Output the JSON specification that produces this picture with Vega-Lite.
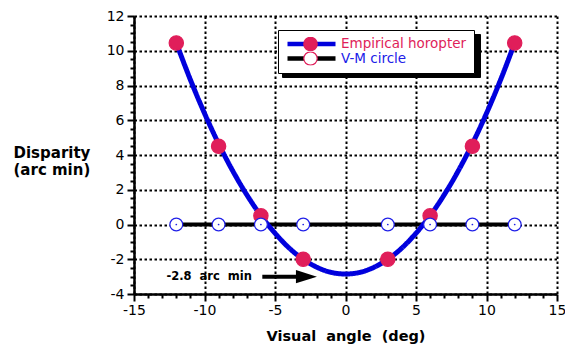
{
  "$schema": "https://vega.github.io/schema/vega-lite/v6.json",
  "width": 423,
  "height": 278,
  "autosize": {"type": "none"},
  "padding": {"left": 134, "top": 16, "right": 8, "bottom": 50},
  "config": {"view": {"stroke": null}, "font": "DejaVu Sans"},
  "datasets": {
    "curve": [
      {"x": -12, "y": 10.45, "series": "Empirical horopter"},
      {"x": -11, "y": 8.33, "series": "Empirical horopter"},
      {"x": -10, "y": 6.4, "series": "Empirical horopter"},
      {"x": -9, "y": 4.65, "series": "Empirical horopter"},
      {"x": -8, "y": 3.09, "series": "Empirical horopter"},
      {"x": -7, "y": 1.71, "series": "Empirical horopter"},
      {"x": -6, "y": 0.51, "series": "Empirical horopter"},
      {"x": -5, "y": -0.5, "series": "Empirical horopter"},
      {"x": -4, "y": -1.35, "series": "Empirical horopter"},
      {"x": -3, "y": -2.0, "series": "Empirical horopter"},
      {"x": -2, "y": -2.47, "series": "Empirical horopter"},
      {"x": -1, "y": -2.76, "series": "Empirical horopter"},
      {"x": 0, "y": -2.85, "series": "Empirical horopter"},
      {"x": 1, "y": -2.76, "series": "Empirical horopter"},
      {"x": 2, "y": -2.47, "series": "Empirical horopter"},
      {"x": 3, "y": -2.0, "series": "Empirical horopter"},
      {"x": 4, "y": -1.35, "series": "Empirical horopter"},
      {"x": 5, "y": -0.5, "series": "Empirical horopter"},
      {"x": 6, "y": 0.51, "series": "Empirical horopter"},
      {"x": 7, "y": 1.71, "series": "Empirical horopter"},
      {"x": 8, "y": 3.09, "series": "Empirical horopter"},
      {"x": 9, "y": 4.65, "series": "Empirical horopter"},
      {"x": 10, "y": 6.4, "series": "Empirical horopter"},
      {"x": 11, "y": 8.33, "series": "Empirical horopter"},
      {"x": 12, "y": 10.45, "series": "Empirical horopter"}
    ],
    "vm": [
      {"x": -12, "y": 0, "series": "V-M circle"},
      {"x": 12, "y": 0, "series": "V-M circle"}
    ],
    "points": [
      {"x": -12, "y": 10.45, "name": "Empirical horopter"},
      {"x": -9, "y": 4.5, "name": "Empirical horopter"},
      {"x": -6, "y": 0.5, "name": "Empirical horopter"},
      {"x": -3, "y": -2.0, "name": "Empirical horopter"},
      {"x": 3, "y": -2.0, "name": "Empirical horopter"},
      {"x": 6, "y": 0.5, "name": "Empirical horopter"},
      {"x": 9, "y": 4.5, "name": "Empirical horopter"},
      {"x": 12, "y": 10.45, "name": "Empirical horopter"},
      {"x": -12, "y": 0, "name": "V-M circle"},
      {"x": -9, "y": 0, "name": "V-M circle"},
      {"x": -6, "y": 0, "name": "V-M circle"},
      {"x": -3, "y": 0, "name": "V-M circle"},
      {"x": 3, "y": 0, "name": "V-M circle"},
      {"x": 6, "y": 0, "name": "V-M circle"},
      {"x": 9, "y": 0, "name": "V-M circle"},
      {"x": 12, "y": 0, "name": "V-M circle"}
    ],
    "note": [{"x": -12.7, "y": -3.0, "text": "-2.8\u00a0 arc\u00a0 min"}],
    "arrow": [{"x": -5.9, "x2": -3.4, "y": -3.0, "hx": -2.77}]
  },
  "resolve": {"axis": {"x": "independent", "y": "independent"}},
  "layer": [
    {
      "data": {"name": "vm"},
      "mark": {"type": "line", "strokeWidth": 4},
      "encoding": {
        "x": {
          "field": "x", "type": "quantitative",
          "scale": {"domain": [-15, 15], "nice": false, "zero": false},
          "axis": {
            "orient": "bottom",
            "values": [-15, -10, -5, 0, 5, 10, 15],
            "labelExpr": "replace(datum.label, '\u2212', '-')",
            "title": "Visual\u00a0 angle\u00a0 (deg)",
            "titleFont": "DejaVu Sans", "titleFontWeight": "bold", "titleFontSize": 14.5,
            "titleColor": "black", "titlePadding": 12,
            "labelFont": "DejaVu Sans", "labelFontSize": 14, "labelColor": "black", "labelPadding": 2,
            "labelFlush": false, "labelOverlap": false,
            "tickSize": 7, "tickWidth": 2, "tickColor": "black",
            "domainColor": "black", "domainWidth": 2.5,
            "grid": true, "gridColor": "black", "gridDash": [2.5, 2.5], "gridWidth": 2, "gridOpacity": 1
          }
        },
        "y": {
          "field": "y", "type": "quantitative",
          "scale": {"domain": [-4, 12], "nice": false, "zero": false},
          "axis": {
            "orient": "left",
            "values": [-4, -2, 0, 2, 4, 6, 8, 10, 12],
            "labelExpr": "replace(datum.label, '\u2212', '-')",
            "title": ["Disparity", "(arc min)"],
            "titleFont": "DejaVu Sans", "titleFontWeight": "bold", "titleFontSize": 15,
            "titleColor": "black", "titleAngle": 0, "titleAlign": "left", "titleBaseline": "alphabetic",
            "titleX": -121, "titleY": 141, "titleLineHeight": 17,
            "labelFont": "DejaVu Sans", "labelFontSize": 14, "labelColor": "black", "labelPadding": 3,
            "labelFlush": false, "labelOverlap": false,
            "tickSize": 7, "tickWidth": 2, "tickColor": "black",
            "domainColor": "black", "domainWidth": 2.5,
            "grid": true, "gridColor": "black", "gridDash": [2.5, 2.5], "gridWidth": 2, "gridOpacity": 1
          }
        },
        "stroke": {
          "field": "series", "type": "nominal",
          "scale": {"range": ["#0000dd", "#000000"]},
          "legend": {
            "title": null, "orient": "none", "legendX": 144, "legendY": 14, "direction": "vertical",
            "symbolType": "stroke", "symbolSize": 2304, "symbolStrokeWidth": 4.5,
            "labelFont": "DejaVu Sans", "labelFontSize": 13.5, "labelOffset": 3, "labelLimit": 300,
            "padding": 7, "clipHeight": 14, "rowPadding": 0.5,
            "fillColor": "white", "strokeColor": "black", "zindex": 1,
            "encode": {"labels": {"update": {"fill": {"signal": "datum.value === 'V-M circle' ? '#2020e8' : '#e01e5a'"}}}}
          }
        }
      }
    },
    {
      "data": {"name": "curve"},
      "mark": {"type": "line", "strokeWidth": 5, "interpolate": "monotone"},
      "encoding": {
        "x": {
          "field": "x", "type": "quantitative",
          "axis": {
            "orient": "bottom",
            "values": [-14, -13, -12, -11, -9, -8, -7, -6, -4, -3, -2, -1, 1, 2, 3, 4, 6, 7, 8, 9, 11, 12, 13, 14],
            "title": null, "labels": false, "domain": false, "grid": false,
            "tickSize": 4, "tickWidth": 2, "tickColor": "black"
          }
        },
        "y": {
          "field": "y", "type": "quantitative",
          "axis": {
            "orient": "left",
            "values": [-3.5, -3, -2.5, -1.5, -1, -0.5, 0.5, 1, 1.5, 2.5, 3, 3.5, 4.5, 5, 5.5, 6.5, 7, 7.5, 8.5, 9, 9.5, 10.5, 11, 11.5],
            "title": null, "labels": false, "domain": false, "grid": false,
            "tickSize": 4, "tickWidth": 2, "tickColor": "black"
          }
        },
        "stroke": {"field": "series", "type": "nominal"},
        "strokeDash": {
          "field": "series", "type": "nominal",
          "scale": {"domain": ["Empirical horopter", "V-M circle"], "range": [[1, 0], [1, 0]]},
          "legend": {
            "title": null, "orient": "none", "legendX": 148, "legendY": 18, "direction": "vertical",
            "symbolType": "stroke", "symbolSize": 31000, "symbolStrokeWidth": 4.5,
            "labelExpr": "''", "labelFontSize": 13.5, "labelOffset": 3,
            "padding": 7, "clipHeight": 14, "rowPadding": 0.5,
            "fillColor": "black", "strokeColor": "black", "zindex": 0
          }
        }
      }
    },
    {
      "data": {"name": "points"},
      "mark": {"type": "point", "filled": true, "opacity": 1, "strokeWidth": 1.2},
      "encoding": {
        "x": {"field": "x", "type": "quantitative", "axis": null},
        "y": {"field": "y", "type": "quantitative", "axis": null},
        "size": {"condition": {"test": "datum.name === 'V-M circle'", "value": 165}, "value": 205},
        "fill": {
          "field": "name", "type": "nominal",
          "scale": {"range": ["#e01e5a", "#ffffff"]},
          "legend": {
            "title": null, "orient": "none", "legendX": 162, "legendY": 14, "direction": "vertical",
            "symbolType": "circle", "symbolSize": 180, "symbolStrokeWidth": 1.2,
            "labelExpr": "''", "labelFontSize": 13.5,
            "padding": 7, "clipHeight": 14, "rowPadding": 0.5, "zindex": 2,
            "encode": {"symbols": {"update": {
              "stroke": {"signal": "datum.value === 'V-M circle' ? '#2020e8' : '#e01e5a'"},
              "opacity": {"value": 1}
            }}}
          }
        },
        "stroke": {"condition": {"test": "datum.name === 'V-M circle'", "value": "#2020e8"}, "value": "#e01e5a"}
      }
    },
    {
      "data": {"name": "points"},
      "transform": [{"filter": "datum.name === 'V-M circle'"}],
      "mark": {"type": "point", "filled": true, "opacity": 1, "size": 3, "color": "#2020e8"},
      "encoding": {
        "x": {"field": "x", "type": "quantitative", "axis": null},
        "y": {"field": "y", "type": "quantitative", "axis": null}
      }
    },
    {
      "data": {"name": "arrow"},
      "mark": {"type": "rule", "strokeWidth": 4, "color": "black"},
      "encoding": {
        "x": {"field": "x", "type": "quantitative", "axis": null},
        "x2": {"field": "x2"},
        "y": {"field": "y", "type": "quantitative", "axis": null}
      }
    },
    {
      "data": {"name": "arrow"},
      "mark": {"type": "point", "shape": "M-1,-0.62L1,0L-1,0.62Z", "size": 441, "filled": true, "opacity": 1, "color": "black"},
      "encoding": {
        "x": {"field": "hx", "type": "quantitative", "axis": null},
        "y": {"field": "y", "type": "quantitative", "axis": null}
      }
    },
    {
      "data": {"name": "note"},
      "mark": {"type": "text", "align": "left", "baseline": "middle", "font": "DejaVu Sans", "fontWeight": "bold", "fontSize": 11.5, "color": "black"},
      "encoding": {
        "x": {"field": "x", "type": "quantitative", "axis": null},
        "y": {"field": "y", "type": "quantitative", "axis": null},
        "text": {"field": "text"}
      }
    }
  ]
}
